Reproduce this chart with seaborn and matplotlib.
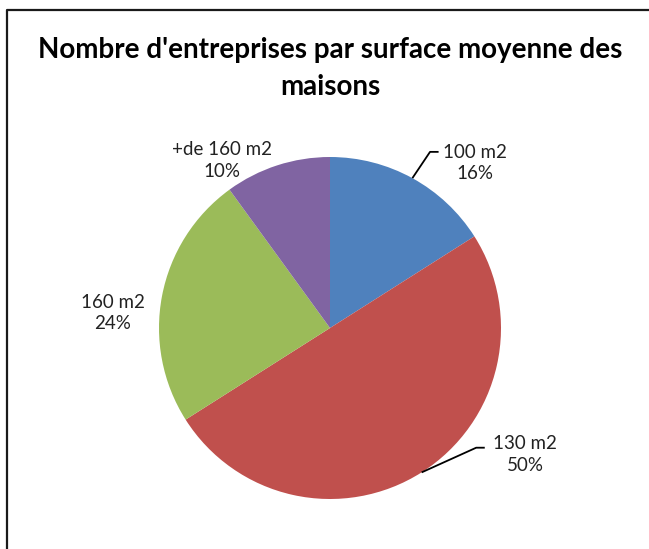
import matplotlib
matplotlib.use("Agg")
import matplotlib.pyplot as plt
import seaborn as sns
import numpy as np

categories = ["100 m2", "130 m2", "160 m2", "+de 160 m2"]
shares = [16, 50, 24, 10]
title_lines = ["Nombre d'entreprises par surface moyenne des", "maisons"]

sns.set_theme(style="white")
plt.rcParams["font.family"] = ["Lato", "DejaVu Sans"]

colors = ["#4F81BD", "#C0504D", "#9BBB59", "#8064A2"]

W, H = 649, 549
cx, cy, r = 330, 328, 171  # pixels, pie centre and radius

fig = plt.figure(figsize=(W / 100, H / 100), dpi=100)
ax = fig.add_axes([0, 0, 1, 1])

wedges, _ = ax.pie(shares, colors=colors, startangle=90, counterclock=False,
                   wedgeprops=dict(linewidth=0))
ax.set_xlim(-cx / r, (W - cx) / r)
ax.set_ylim(-(H - cy) / r, cy / r)
ax.set_aspect("equal")
ax.axis("off")

# label positions (pie units), leader line offsets (dx end, dy) or None
label_pos = [(0.85, 0.965), (1.14, -0.74), (-1.27, 0.09), (-0.63, 0.98)]
leaders = [(0.215, 0.065), (0.235, 0.04), None, None]

for w, name, val, (lx, ly), lead in zip(wedges, categories, shares, label_pos, leaders):
    ax.text(lx, ly, f"{name}\n{val}%", ha="center", va="center",
            fontsize=13.5, color="#222222", linespacing=1.3)
    if lead:
        mid = np.deg2rad((w.theta1 + w.theta2) / 2)
        ex, ey = np.cos(mid), np.sin(mid)
        tx, ty = lx - lead[0], ly + lead[1]
        ax.plot([ex, tx - 0.05, tx], [ey, ty, ty], color="black", lw=1.3,
                solid_capstyle="butt")

fig.text(cx / W, 1 - 50 / H, title_lines[0], ha="center", va="center",
         fontsize=20, fontweight="bold", color="black")
fig.text(cx / W, 1 - 87 / H, title_lines[1], ha="center", va="center",
         fontsize=20, fontweight="bold", color="black")

# chart area border (left and top visible)
fig.add_artist(plt.Line2D([7 / W, 7 / W, 1], [0, 1 - 10 / H, 1 - 10 / H],
                          transform=fig.transFigure, color="#1a1a1a", lw=1.6))

fig.savefig("out.png", dpi=100)
